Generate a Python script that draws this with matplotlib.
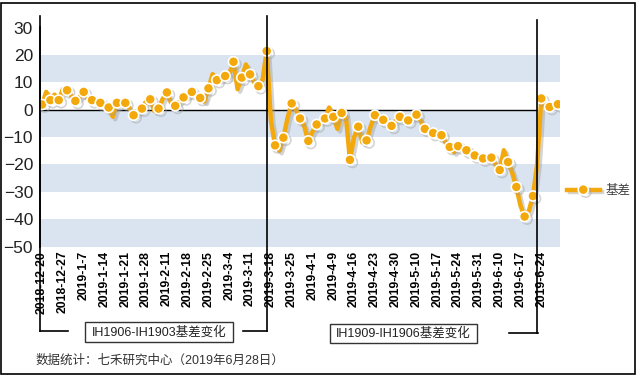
import numpy as np
import pandas as pd
import matplotlib
matplotlib.use('Agg')
import matplotlib.pyplot as plt
import matplotlib.patheffects as pe
import matplotlib.transforms as mtransforms
from matplotlib.lines import Line2D
from matplotlib.patches import Rectangle

plt.rcParams['font.family'] = ['Liberation Sans', 'Noto Sans CJK SC', 'DejaVu Sans']

# trading days (China, holidays removed)
holidays = ['2018-12-31', '2019-01-01', '2019-02-04', '2019-02-05', '2019-02-06',
            '2019-02-07', '2019-02-08', '2019-04-05', '2019-05-01', '2019-05-02',
            '2019-05-03', '2019-06-07']
dates = pd.bdate_range('2018-12-20', '2019-06-28')
dates = dates[~dates.isin(pd.to_datetime(holidays))]

# basis values
basis = [1.9, 6.5, 3.5, 5.5, 3.5, 7.5, 7.1, 5.0, 3.2, 4.5,
         6.5, 4.0, 3.5, 3.0, 2.5, 2.0, 0.8, -2.6, 2.5, 2.0,
         2.5, 0.5, -2.0, -1.0, 0.4, 3.0, 3.8, -0.5, 0.4, 4.0,
         6.3, 2.5, 1.4, 3.0, 4.5, 5.0, 6.5, 6.0, 4.3, 3.0,
         7.8, 13.0, 10.8, 11.0, 12.3, 13.0, 17.5, 7.5, 11.7, 16.5,
         12.9, 10.0, 8.6, 11.0, 21.4, -4.0, -13.0, -15.0, -10.2, -3.0,
         2.3, 0.0, -3.2, -6.0, -11.4, -8.0, -5.4, -4.0, -3.2, 0.8,
         -2.6, -7.0, -1.2, -2.0, -18.3, -10.0, -6.2, -12.0, -11.2, -6.0,
         -2.0, -4.0, -3.7, -5.0, -5.9, -4.0, -2.6, -4.0, -3.9, -3.0,
         -1.8, -4.0, -7.0, -8.0, -8.5, -9.0, -9.3, -12.0, -13.6, -15.5,
         -13.3, -14.0, -14.8, -16.0, -16.7, -17.0, -17.8, -18.0, -17.5, -20.0,
         -22.0, -14.8, -19.1, -23.0, -28.2, -35.0, -39.0, -37.0, -31.5, -20.0,
         4.1, 1.0, 1.0, 1.5, 2.0]

expiry = ['2019-03-15', '2019-06-21']
box_texts = ['IH1906-IH1903基差变化', 'IH1909-IH1906基差变化']
series_name = '基差'
source = '数据统计：七禾研究中心（2019年6月28日）'

W, H = 643, 378
fig = plt.figure(figsize=(W / 100, H / 100), dpi=100)


def fx(x):
    return x / W


def fy(y):
    return 1 - y / H


ax = fig.add_axes([fx(40), fy(246.7), 520 / W, 219.2 / H])
x = np.arange(len(dates))
ax.set_xlim(-0.5, len(dates) - 0.5)
ax.set_ylim(-50, 30)

for lo in [10, -10, -30, -50]:
    ax.axhspan(lo, lo + 10, color='#d9e4f0', lw=0, zorder=0)

exp_idx = [int(np.where(dates == pd.Timestamp(d))[0][0]) for d in expiry]
ax.hlines(0, -0.5, exp_idx[1], color='black', lw=1, zorder=1)

gold = '#f3a80c'
ax.plot(x, basis, color=gold, lw=3.2, marker='o', markevery=2, markersize=7.3,
        markerfacecolor=gold, markeredgecolor='white', markeredgewidth=1.2,
        solid_joinstyle='round', zorder=3,
        path_effects=[pe.SimpleLineShadow(offset=(1.8, -1.8), shadow_color='#a0a0a0', alpha=0.45),
                      pe.Normal()],
        label=series_name)

ticks = x[::5]
ax.set_xticks(ticks)
ax.set_xticklabels([f'{d.year}-{d.month}-{d.day}' for d in dates[::5]],
                   rotation=90, fontsize=8.8, fontweight='bold', color='black')
ax.set_yticks(range(-50, 31, 10))
ax.tick_params(axis='y', length=0, pad=5, labelsize=12.5, labelcolor='#222222')
ax.tick_params(axis='x', length=0, pad=3)
for s in ['top', 'right', 'bottom']:
    ax.spines[s].set_visible(False)
ax.spines['left'].set_color('black')
ax.spines['left'].set_linewidth(1.2)

# bracket annotations
bt = mtransforms.blended_transform_factory(ax.transData, fig.transFigure)
kw = dict(color='black', lw=1.2, clip_on=False)
fig.add_artist(Line2D([-0.5, -0.5], [fy(16), fy(331)], transform=bt, **kw))
fig.add_artist(Line2D([exp_idx[0], exp_idx[0]], [fy(16), fy(331)], transform=bt, **kw))
fig.add_artist(Line2D([exp_idx[1], exp_idx[1]], [fy(20), fy(333)], transform=bt, **kw))
fig.add_artist(Line2D([fx(40), fx(68)], [fy(331), fy(331)], color='black', lw=1.2))
fig.add_artist(Line2D([fx(243), fx(267)], [fy(331), fy(331)], color='black', lw=1.2))
fig.add_artist(Line2D([fx(509), fx(538)], [fy(333), fy(333)], color='black', lw=1.2))

for (x0, x1, y0, y1), t in zip([(85, 233, 322, 342), (330, 477, 324, 343)], box_texts):
    fig.add_artist(Rectangle((fx(x0), fy(y1)), fx(x1 - x0), (y1 - y0) / H,
                             facecolor='white', edgecolor='#333333', lw=1))
    fig.text(fx((x0 + x1) / 2), fy((y0 + y1) / 2), t, ha='center', va='center',
             fontsize=9, color='#222222')

fig.text(fx(36), fy(361), source, ha='left', va='center', fontsize=9, color='#333333')

leg = fig.legend(loc='center left', bbox_to_anchor=(fx(562), fy(191)), frameon=False,
                 fontsize=9, handlelength=2.6, handletextpad=0.5, borderaxespad=0)
for t in leg.get_texts():
    t.set_color('#404040')

# outer frame
fig.add_artist(Rectangle((fx(1), fy(374)), fx(634), 371 / H, fill=False,
                         edgecolor='black', lw=1.2))

fig.savefig('out.png', dpi=100)
